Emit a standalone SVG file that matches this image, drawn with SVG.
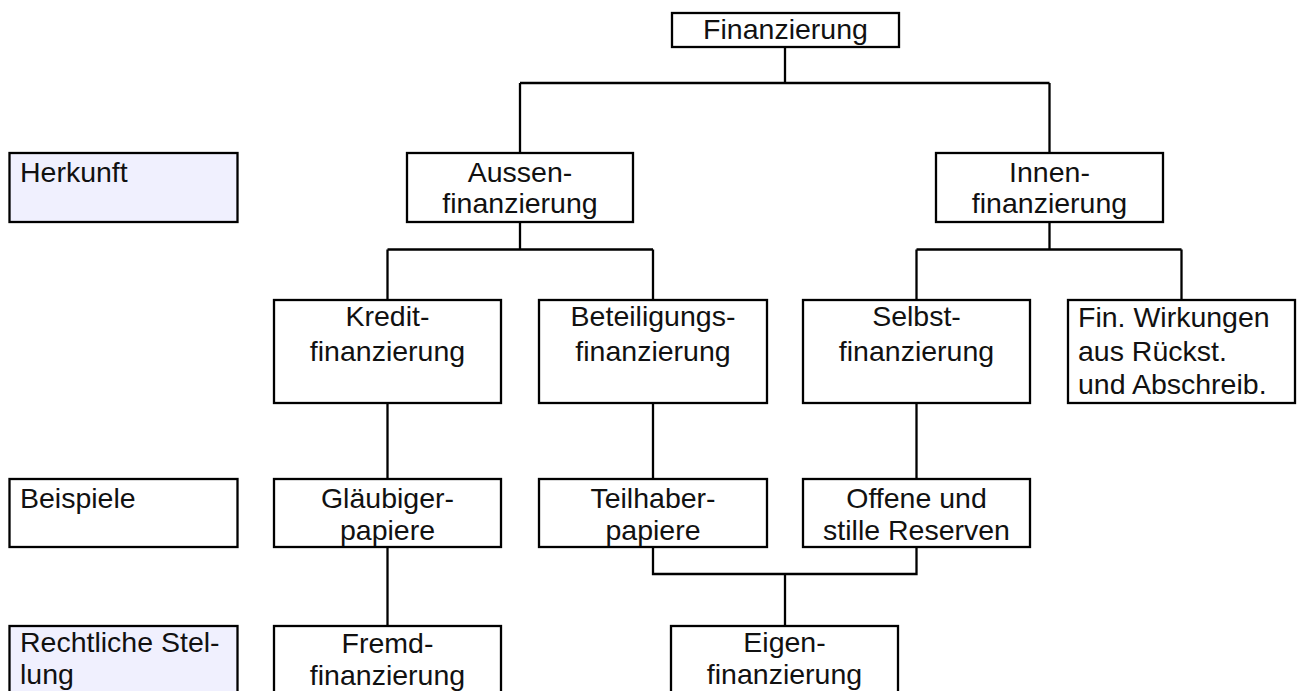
<svg xmlns="http://www.w3.org/2000/svg" width="1300" height="691" viewBox="0 0 1300 691">
<style>
.box{fill:#fff;stroke:#000;stroke-width:2.3}
.lab{fill:#f0f0fe;stroke:#000;stroke-width:2.3}
.ln{fill:none;stroke:#000;stroke-width:2.3}
text{font-family:"Liberation Sans",Arial,sans-serif;font-size:28.5px;fill:#111}
.c{text-anchor:middle}
</style>
<rect width="1300" height="691" fill="#fff"/>
<g id="connectors">
<path class="ln" d="M785,47 V83 M520,83 H1049.5 M520,83 V153 M1049.5,83 V153"/>
<path class="ln" d="M520,222 V249.5 M387.5,249.5 H653 M387.5,249.5 V300 M653,249.5 V300"/>
<path class="ln" d="M1049.5,222 V249.5 M916.5,249.5 H1181.5 M916.5,249.5 V300 M1181.5,249.5 V300"/>
<path class="ln" d="M387.5,403 V479 M653,403 V479 M916.5,403 V479"/>
<path class="ln" d="M387.5,547 V626"/>
<path class="ln" d="M653,547 V574 H916.5 V547 M785,574 V626"/>
</g>
<g id="n-finanzierung"><rect class="box" x="672" y="13" width="227" height="34"/><text class="c" x="785.5" y="39">Finanzierung</text></g>
<g id="l-herkunft"><rect class="lab" x="9.5" y="153" width="228" height="69"/><text x="20" y="182">Herkunft</text></g>
<g id="n-aussen"><rect class="box" x="407" y="153" width="226" height="69"/><text class="c" x="520" y="182">Aussen-</text><text class="c" x="520" y="213">finanzierung</text></g>
<g id="n-innen"><rect class="box" x="936" y="153" width="227" height="69"/><text class="c" x="1049.5" y="182">Innen-</text><text class="c" x="1049.5" y="213">finanzierung</text></g>
<g id="n-kredit"><rect class="box" x="274" y="300" width="227" height="103"/><text class="c" x="387.5" y="326">Kredit-</text><text class="c" x="387.5" y="361">finanzierung</text></g>
<g id="n-beteiligung"><rect class="box" x="539" y="300" width="228" height="103"/><text class="c" x="653" y="326">Beteiligungs-</text><text class="c" x="653" y="361">finanzierung</text></g>
<g id="n-selbst"><rect class="box" x="803" y="300" width="227" height="103"/><text class="c" x="916.5" y="326">Selbst-</text><text class="c" x="916.5" y="361">finanzierung</text></g>
<g id="n-wirkungen"><rect class="box" x="1068" y="300" width="227" height="103"/><text x="1078" y="327">Fin. Wirkungen</text><text x="1078" y="361">aus Rückst.</text><text x="1078" y="394">und Abschreib.</text></g>
<g id="l-beispiele"><rect class="box" x="9.5" y="479" width="228" height="68"/><text x="20" y="508">Beispiele</text></g>
<g id="n-glaeubiger"><rect class="box" x="274" y="479" width="227" height="68"/><text class="c" x="387.5" y="508">Gläubiger-</text><text class="c" x="387.5" y="540">papiere</text></g>
<g id="n-teilhaber"><rect class="box" x="539" y="479" width="228" height="68"/><text class="c" x="653" y="508">Teilhaber-</text><text class="c" x="653" y="540">papiere</text></g>
<g id="n-reserven"><rect class="box" x="803" y="479" width="227" height="68"/><text class="c" x="916.5" y="508">Offene und</text><text class="c" x="916.5" y="540">stille Reserven</text></g>
<g id="l-rechtlich"><rect class="lab" x="9.5" y="626" width="228" height="80"/><text x="20" y="652">Rechtliche Stel-</text><text x="20" y="684">lung</text></g>
<g id="n-fremd"><rect class="box" x="274" y="626" width="227" height="80"/><text class="c" x="387.5" y="653">Fremd-</text><text class="c" x="387.5" y="685">finanzierung</text></g>
<g id="n-eigen"><rect class="box" x="671" y="626" width="227" height="80"/><text class="c" x="784.5" y="652">Eigen-</text><text class="c" x="784.5" y="684">finanzierung</text></g>
</svg>
